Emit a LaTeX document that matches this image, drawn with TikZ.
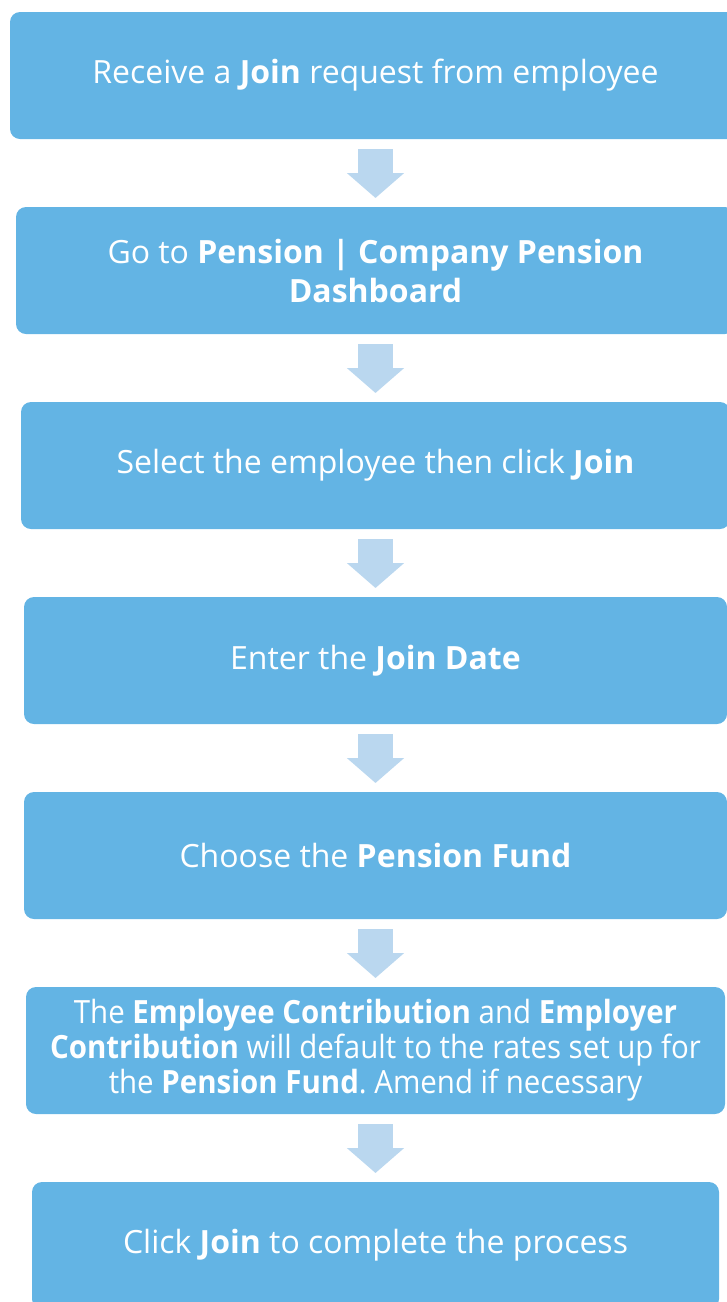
\documentclass[tikz,border=0pt]{standalone}
\usepackage{fontspec}
\setmainfont{Open Sans}
\newfontfamily\narrowfont{Open Sans}[FakeStretch=0.92]
\usetikzlibrary{positioning,arrows.meta}
\definecolor{stepblue}{HTML}{63B4E4}
\definecolor{arrowblue}{HTML}{BAD7EF}
\frenchspacing

\begin{document}
\begin{tikzpicture}[
    stepbox/.style={fill=stepblue,rounded corners=10pt,minimum height=127pt,inner sep=0pt,outer sep=0pt,
      text=white,align=center,font=\fontsize{32}{39}\selectfont},
    flow/.style={arrowblue,line width=35pt,-{Triangle[width=56pt,length=25pt]},shorten <=10pt,shorten >=9pt},
    node distance=68pt]
  \clip (0,0) rectangle (727pt,-1302pt);
  \node[stepbox,minimum width=731pt] (s1) at (375.5pt,-75.5pt) {Receive a \textbf{Join} request from employee};
  \node[stepbox,minimum width=719pt,below=of s1] (s2) {Go to \textbf{Pension | Company Pension}\\\textbf{Dashboard}};
  \node[stepbox,minimum width=709pt,below=of s2] (s3) {Select the employee then click \textbf{Join}};
  \node[stepbox,minimum width=703pt,below=of s3] (s4) {Enter the \textbf{Join Date}};
  \node[stepbox,minimum width=703pt,below=of s4] (s5) {Choose the \textbf{Pension Fund}};
  \node[stepbox,minimum width=699pt,below=of s5,font=\narrowfont\fontsize{32}{35}\selectfont] (s6)
    {The \textbf{Employee Contribution} and \textbf{Employer}\\\textbf{Contribution} will default to the rates set up for\\the \textbf{Pension Fund}. Amend if necessary};
  \node[stepbox,minimum width=687pt,below=of s6] (s7) {Click \textbf{Join} to complete the process};
  % arrows between the steps
  \foreach \a/\b in {s1/s2,s2/s3,s3/s4,s4/s5,s5/s6,s6/s7}
    \draw[flow] (\a.south) -- (\b.north);
\end{tikzpicture}
\end{document}
